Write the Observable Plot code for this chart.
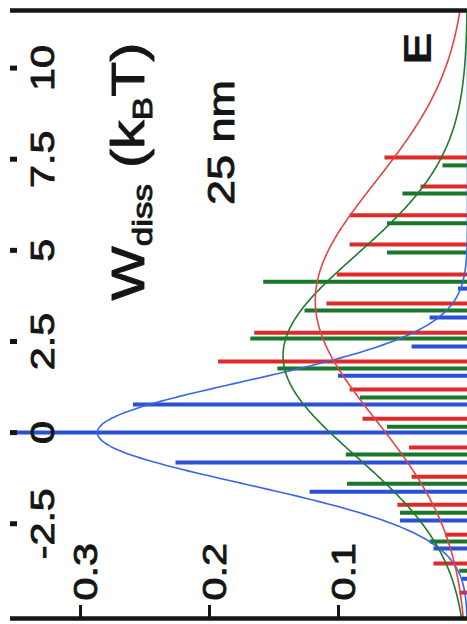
<!DOCTYPE html>
<html>
<head>
<meta charset="utf-8">
<script src="https://cdn.jsdelivr.net/npm/d3@7"></script>
<script src="https://cdn.jsdelivr.net/npm/@observablehq/plot@0.6"></script>
<style>
  html, body { margin: 0; padding: 0; background: #fff; }
  #chart { width: 467px; height: 624px; overflow: hidden; }
</style>
</head>
<body>
<div id="chart"></div>
<script>
// Dissipated-work histograms: bin centre (kBT) and probability, one pair per data set
const blueW  = [3.95, 3.16, 2.36, 1.56, 0.77, 0, -0.82, -1.62, -2.41, -3.18, -4.01];
const blueP  = [0.007, 0.029, 0.043, 0.100, 0.259, 0.36, 0.226, 0.122, 0.052, 0.026, 0.004];
const greenW = [7.33, 6.56, 5.74, 4.94, 4.14, 3.35, 2.58, 1.76, 0.96, 0.16, -0.60, -1.40, -2.20, -2.99, -3.79];
const greenP = [0.019, 0.050, 0.062, 0.062, 0.158, 0.126, 0.168, 0.147, 0.083, 0.062, 0.094, 0.093, 0.052, 0.029, 0.006];
const redW   = [7.55, 6.75, 5.96, 5.16, 4.34, 3.54, 2.74, 1.95, 1.18, 0.38, -0.41, -1.21, -1.98, -2.80, -3.59, -4.39];
const redP   = [0.064, 0.036, 0.091, 0.091, 0.101, 0.109, 0.165, 0.193, 0.091, 0.081, 0.045, 0.043, 0.054, 0.017, 0.026, 0.006];

// Gaussian fits to each histogram: mean, standard deviation, peak height
const fitNames = ["blue", "green", "red"];
const fitMean  = [0, 2.11, 3.62];
const fitSD    = [1.4, 2.75, 3.25];
const fitPeak  = [0.287, 0.143, 0.118];

// Axis ticks and labels
const wTicks  = [-2.5, 0, 2.5, 5, 7.5, 10];
const wLabels = ["-2.5", "0", "2.5", "5", "7.5", "10"];
const pTicks  = [0.1, 0.2, 0.3];
const pLabels = ["0.1", "0.2", "0.3"];

const barColor   = {blue: "#2b4fd6", green: "#18772a", red: "#e02a2a"};
const curveColor = {blue: "#3a66e0", green: "#1f7a2c", red: "#e44444"};

// Build tidy tables
const bars = [
  ...blueW.map((w, i) => ({series: "blue", w, p: blueP[i]})),
  ...greenW.map((w, i) => ({series: "green", w, p: greenP[i]})),
  ...redW.map((w, i) => ({series: "red", w, p: redP[i]}))
];

const W = 467, H = 624;
const mT = 10, mB = 6, mL = 10, mR = 0;
const frameW = W - mL - mR, frameH = H - mT - mB;
const wDomain = [-5.10, 11.58];
const pDomain = [0.3543, 0];

// Sample the fitted Gaussians across the visible work range
const fits = fitNames.map((name, k) =>
  d3.range(wDomain[0], wDomain[1] + 0.05, 0.05).map(w => ({
    series: name, w,
    p: fitPeak[k] * Math.exp(-((w - fitMean[k]) ** 2) / (2 * fitSD[k] ** 2))
  }))
);

const font = "'Liberation Sans', Arial, Helvetica, sans-serif";
const ink = "#151515";
const heavy = {stroke: ink, strokeWidth: 0.9, paintOrder: "stroke"};

const plot = Plot.plot({
  width: W, height: H,
  marginTop: mT, marginBottom: mB, marginLeft: mL, marginRight: mR,
  style: {background: "#fff", fontFamily: font, overflow: "hidden"},
  x: {domain: pDomain, axis: null},
  y: {domain: wDomain, axis: null},
  marks: [
    // histogram bars, running from zero probability at the right edge
    ...fitNames.map(name => Plot.ruleY(bars.filter(d => d.series === name), {
      y: "w", x1: 0, x2: "p", stroke: barColor[name], strokeWidth: 4, clip: true
    })),
    // fitted curves
    ...fits.map((f, k) => Plot.line(f, {
      x: "p", y: "w", stroke: curveColor[fitNames[k]], strokeWidth: 1.6, curve: "natural", clip: true
    })),
    // frame edges at the ends of the work range
    Plot.ruleY(wDomain, {stroke: ink, strokeWidth: 4.5}),
    // work ticks (inward, on the left)
    Plot.tickY(wTicks, {stroke: ink, strokeWidth: 5, insetRight: frameW - 7}),
    // probability ticks (inward, on the bottom)
    Plot.tickX(pTicks, {stroke: ink, strokeWidth: 3, insetTop: frameH - 13}),
    // tick labels
    Plot.text(wTicks, {
      y: d => d, text: (d, i) => wLabels[i], frameAnchor: "left", dx: 43,
      rotate: -90, textAnchor: "middle", lineAnchor: "bottom", fontSize: 33, fill: ink, ...heavy
    }),
    Plot.text(pTicks, {
      x: d => d, text: (d, i) => pLabels[i], frameAnchor: "bottom", dx: 16, dy: -18,
      rotate: -90, textAnchor: "start", lineAnchor: "bottom", fontSize: 33, fill: ink, ...heavy
    }),
    // axis title, condition and panel letter
    Plot.text(["Wdiss (kBT)"], {
      frameAnchor: "top-left", dx: 133, dy: 290, rotate: -90,
      textAnchor: "start", lineAnchor: "bottom", fontSize: 46, fill: ink, className: "wtitle", ...heavy
    }),
    Plot.text(["25 nm"], {
      frameAnchor: "top-left", dx: 223, dy: 132, rotate: -90,
      textAnchor: "middle", lineAnchor: "bottom", fontSize: 36, fill: ink, ...heavy
    }),
    Plot.text(["E"], {
      frameAnchor: "top-left", dx: 420, dy: 38, rotate: -90,
      textAnchor: "middle", lineAnchor: "bottom", fontSize: 39, fontWeight: "bold", fill: ink
    })
  ]
});

// Rich text for the axis title: subscripts on "diss" and "B"
const title = d3.select(plot).select(".wtitle text");
title.text(null);
const parts = [["W", 0, null], ["diss", 8, 28], [" (k", -8, null], ["B", 8, 28], ["T)", -8, null]];
parts.forEach(([s, dy, fs]) => {
  const t = title.append("tspan").text(s);
  if (dy) t.attr("dy", dy);
  if (fs) t.attr("font-size", fs);
});

// Wide lettering: stretch every label along its reading direction
d3.select(plot).selectAll("text").attr("transform", function () {
  return this.getAttribute("transform") + " scale(1.25,1)";
});

document.getElementById("chart").append(plot);
</script>
</body>
</html>
